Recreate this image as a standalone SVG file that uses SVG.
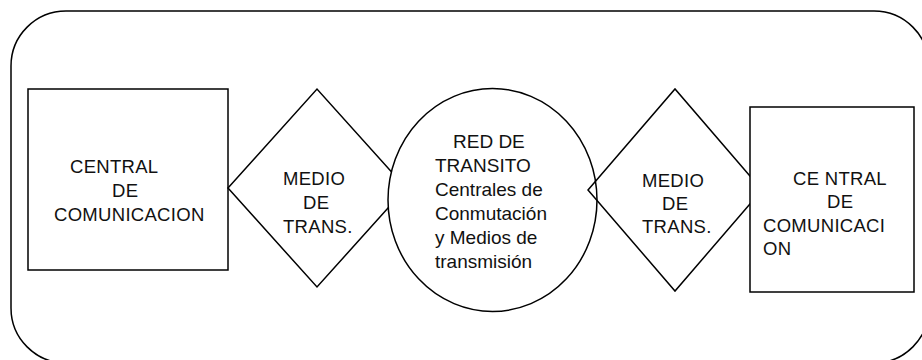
<svg xmlns="http://www.w3.org/2000/svg" width="922" height="360" viewBox="0 0 922 360">
<style>
.s{stroke:#000;stroke-width:1.5;fill:#fff}
.n{stroke:#000;stroke-width:1.5;fill:none}
text{font-family:"Liberation Sans",Arial,sans-serif;font-size:18.5px;fill:#111}
.t{letter-spacing:0.3px}
.c{font-size:19px}
</style>
<rect id="frame" class="n" x="11" y="11" width="918" height="352" rx="55" ry="55"/>
<g id="connectors"></g>
<g id="central1">
<rect class="s" x="28" y="89" width="200" height="181"/>
<text class="t" x="70" y="173">CENTRAL</text>
<text class="t" x="112" y="197">DE</text>
<text class="t" x="54" y="221">COMUNICACION</text>
</g>
<g id="medio1">
<polygon class="s" points="228,188 317,89 406,188 317,287"/>
<text class="t" x="283" y="185">MEDIO</text>
<text class="t" x="303" y="209">DE</text>
<text class="t" x="283" y="233">TRANS.</text>
</g>
<g id="red">
<ellipse class="s" cx="492.5" cy="200" rx="104.5" ry="111.5"/>
<text class="c" x="453" y="148">RED DE</text>
<text class="c" x="435" y="172">TRANSITO</text>
<text class="c" x="435" y="196">Centrales de</text>
<text class="c" x="435" y="220">Conmutación</text>
<text class="c" x="435" y="244">y Medios de</text>
<text class="c" x="435" y="268">transmisión</text>
</g>
<g id="medio2">
<polygon class="n" points="588,190 675,89 762,190 675,291"/>
<text class="t" x="642" y="187">MEDIO</text>
<text class="t" x="662" y="210">DE</text>
<text class="t" x="642" y="233">TRANS.</text>
</g>
<g id="central2">
<rect class="s" x="750" y="107" width="164" height="185"/>
<text class="t" x="793" y="185">CE NTRAL</text>
<text class="t" x="827" y="208">DE</text>
<text class="t" x="763" y="232">COMUNICACI</text>
<text class="t" x="763" y="255">ON</text>
</g>
</svg>
